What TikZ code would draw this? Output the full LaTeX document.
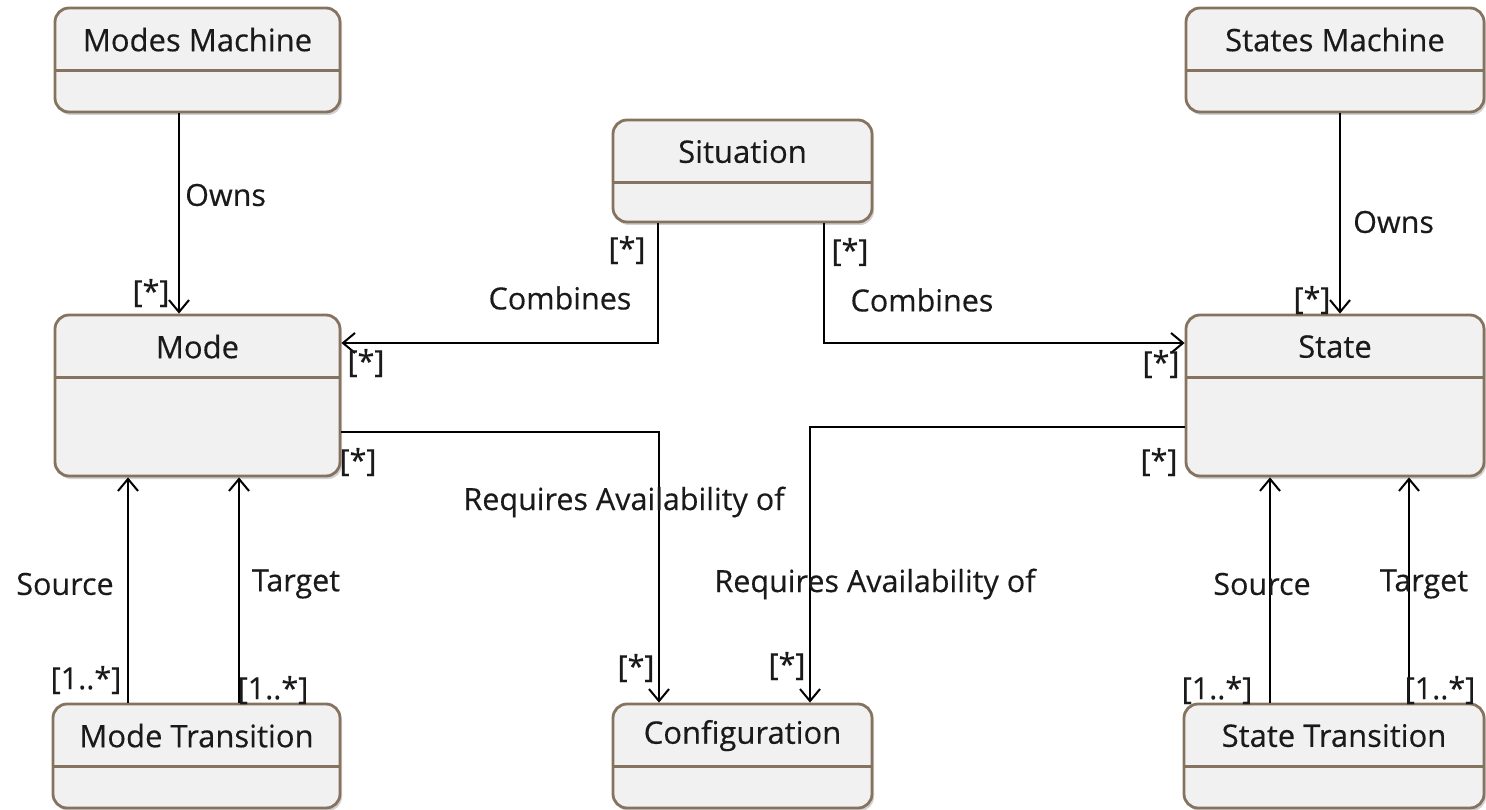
\documentclass[tikz,border=0pt]{standalone}
\usepackage{fontspec}
\setmainfont{Open Sans}
\newfontfamily\umlfont[FakeBold=0.35]{Open Sans}
\usetikzlibrary{arrows.meta,shadows}
\definecolor{boxfill}{HTML}{F1F1F1}
\definecolor{boxline}{HTML}{85735F}
\definecolor{ink}{HTML}{1A1A1A}
\tikzset{
  classbox/.style={draw=boxline, line width=2.8pt, fill=boxfill, rounded corners=14pt,
    inner sep=0pt, drop shadow={shadow xshift=2pt, shadow yshift=-3pt, fill=black!35, opacity=.5}},
  divider/.style={draw=boxline, line width=2.4pt},
  title/.style={font=\umlfont\fontsize{31}{36}\selectfont, text=ink, inner sep=0pt},
  lbl/.style={font=\umlfont\fontsize{30.5}{35}\selectfont, text=ink, inner sep=0pt},
  assoc/.style={draw=black, line width=2pt, -{Straight Barb[length=12pt,width=20pt,line width=2pt]}},
}
\begin{document}
\begin{tikzpicture}[x=1pt,y=-1pt]
\useasboundingbox (0,0) rectangle (1486,810);

% class boxes: name, centre, size
\node[classbox, minimum width=285pt, minimum height=104pt] (mm)   at (197.5,60)  {};
\node[classbox, minimum width=298pt, minimum height=104pt] (sm)   at (1335,60)   {};
\node[classbox, minimum width=259pt, minimum height=102pt] (sit)  at (742.5,171) {};
\node[classbox, minimum width=285pt, minimum height=161pt] (mode) at (197.5,395.5) {};
\node[classbox, minimum width=298pt, minimum height=161pt] (state) at (1335,395.5) {};
\node[classbox, minimum width=287pt, minimum height=104pt] (mt)   at (196.5,756) {};
\node[classbox, minimum width=259pt, minimum height=104pt] (conf) at (742.5,756) {};
\node[classbox, minimum width=300pt, minimum height=104pt] (st)   at (1334,756)  {};

% compartment dividers
\foreach \b in {mm,sm,sit,mode,state,mt,conf,st}{
  \draw[divider] ([yshift=-64pt]\b.north west) -- ([yshift=-64pt]\b.north east);
}

% class names
\node[title] (mmT)    at ([yshift=-33pt]mm.north)    {Modes Machine};
\node[title] (smT)    at ([yshift=-33pt]sm.north)    {States Machine};
\node[title] (sitT)   at ([yshift=-33pt]sit.north)   {Situation};
\node[title] (modeT)  at ([yshift=-33pt]mode.north)  {Mode};
\node[title] (stateT) at ([yshift=-33pt]state.north) {State};
\node[title] (mtT)    at ([yshift=-33pt]mt.north)    {Mode Transition};
\node[title] (confT)  at ([yshift=-33pt]conf.north)  {Configuration};
\node[title] (stT)    at ([yshift=-33pt]st.north)    {State Transition};

% ownership
\draw[assoc] (mm.south -| 179,0) -- (mode.north -| 179,0);
\draw[assoc] (sm.south -| 1340,0) -- (state.north -| 1340,0);
\node[lbl, anchor=west] (ownsL) at (185,195) {Owns};
\node[lbl] (mulMM) at (151,293) {[*]};
\node[lbl, anchor=west] (ownsR) at (1353,222) {Owns};
\node[lbl] (mulSM) at (1312,300) {[*]};

% situation combines modes and states
\draw[assoc] (sit.south -| 658,0) |- (mode.east |- 0,343);
\draw[assoc] (sit.south -| 824,0) |- (state.west |- 0,343);
\node[lbl] (mulS1) at (627,250) {[*]};
\node[lbl] (combL) at (560,298) {Combines};
\node[lbl] (mulS2) at (366,363) {[*]};
\node[lbl] (mulS3) at (850,252) {[*]};
\node[lbl] (combR) at (922,300) {Combines};
\node[lbl] (mulS4) at (1161,364) {[*]};

% configuration requirements
\draw[assoc] (mode.east |- 0,432) -| (conf.north -| 659,0);
\draw[assoc] (state.west |- 0,427) -| (conf.north -| 810,0);
\node[lbl] (mulC1) at (358,462) {[*]};
\node[lbl] (reqL)  at (624,502) {Requires Availability of};
\node[lbl] (mulC2) at (636,668) {[*]};
\node[lbl] (mulC3) at (1159,462) {[*]};
\node[lbl] (reqR)  at (875,584) {Requires Availability of};
\node[lbl] (mulC4) at (787,666) {[*]};

% transitions: source and target
\draw[assoc] (mt.north -| 128,0) -- (mode.south -| 128,0);
\draw[assoc] (mt.north -| 239,0) -- (mode.south -| 239,0);
\draw[assoc] (st.north -| 1270,0) -- (state.south -| 1270,0);
\draw[assoc] (st.north -| 1409,0) -- (state.south -| 1409,0);
\node[lbl] (srcL) at (65,584)  {Source};
\node[lbl] (tgtL) at (296,584) {Target};
\node[lbl] (mulT1) at (86,680)  {[1..*]};
\node[lbl] (mulT2) at (273,690) {[1..*]};
\node[lbl] (srcR) at (1262,584) {Source};
\node[lbl] (tgtR) at (1424,584) {Target};
\node[lbl] (mulT3) at (1217,690) {[1..*]};
\node[lbl] (mulT4) at (1440,690) {[1..*]};
\end{tikzpicture}
\end{document}
